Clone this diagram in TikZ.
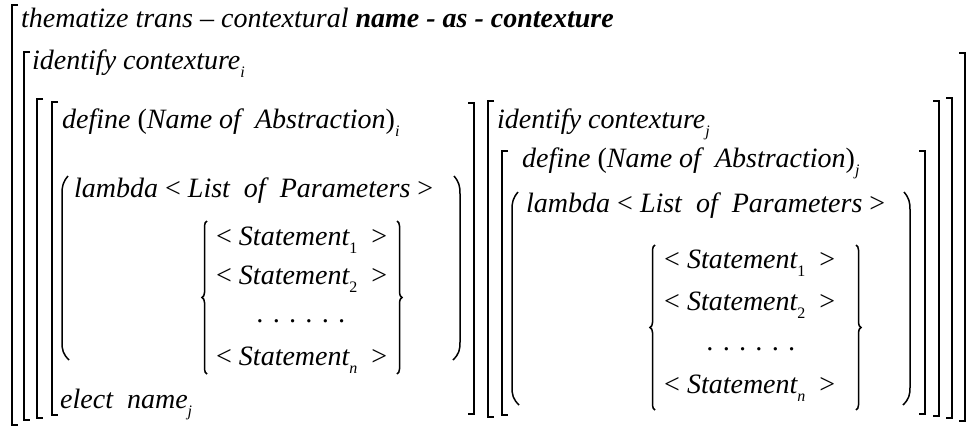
\documentclass[tikz,border=0pt]{standalone}
\usepackage{fontspec}
\setmainfont{Liberation Serif}
\usetikzlibrary{decorations.pathreplacing}
\newcommand\sbs[1]{\raisebox{-0.3em}{\fontsize{16}{16}\selectfont #1}}
\newcommand\LB[3]{\draw[br] (#1+6,#2) -- (#1,#2) -- (#1,#3) -- (#1+6,#3);}
\newcommand\RB[3]{\draw[br] (#1-6,#2) -- (#1,#2) -- (#1,#3) -- (#1-6,#3);}
\newcommand\LP[3]{\draw[br] (#1+6,#2) .. controls (#1+1,#2+6) and (#1,#2+10) .. (#1,#2+18) -- (#1,#3-18) .. controls (#1,#3-10) and (#1+1,#3-6) .. (#1+7,#3);}
\newcommand\RP[3]{\draw[br] (#1-6,#2) .. controls (#1-1,#2+6) and (#1,#2+10) .. (#1,#2+18) -- (#1,#3-18) .. controls (#1,#3-10) and (#1-1,#3-6) .. (#1-7,#3);}
\begin{document}
\begin{tikzpicture}[x=1pt,y=-1pt,
  txt/.style={anchor=base west, inner sep=0pt, font=\itshape\fontsize{28}{32}\selectfont},
  br/.style={line width=1.5pt},
  brc/.style={line width=1.5pt, decorate, decoration={brace, amplitude=5pt}}]
\useasboundingbox (0,0) rectangle (973,426);
% outer brackets
\draw[br] (18,5) -- (12,5) -- (12,425) -- (18,425);
\LB{24}{52}{420}
\LB{37}{99}{418}
\LB{52}{102}{415}
\RB{965}{53}{421}
\RB{952}{98}{418}
\RB{939}{101}{416}
\RB{925}{151}{414}
\RB{474}{103}{414}
\LB{488}{101}{417}
\LB{502}{151}{415}
% text row 1
\node[txt] (t1) at (21,27) {thematize trans -- contextural \textbf{name - as - contexture}};
\node[txt] (t2) at (32,69) {identify contexture\sbs{i}};
% left block
\node[txt] (l1) at (62,128) {define {\upshape(}Name of\ \ Abstraction{\upshape)}\sbs{i}};
\LP{62}{176}{360}
\RP{460}{176}{360}
\node[txt] (l2) at (74,197) {lambda {\upshape<} List\ \ of\ \ Parameters {\upshape>}};
\draw[brc] (207,374) -- (207,221);
\draw[brc] (397,221) -- (397,374);
\node[txt] (l3) at (216,245) {{\upshape<} Statement\sbs{\upshape 1}\ \ {\upshape>}};
\node[txt] (l4) at (216,284) {{\upshape<} Statement\sbs{\upshape 2}\ \ {\upshape>}};
\node[txt] (l5) at (257,322) {. . . . . .};
\node[txt] (l6) at (216,365) {{\upshape<} Statement\sbs{n}\ \ {\upshape>}};
\node[txt] (l7) at (60,408) {elect\ \ name\sbs{j}};
% right block
\node[txt] (r1) at (497,128) {identify contexture\sbs{j}};
\node[txt] (r2) at (522,167) {define {\upshape(}Name of\ \ Abstraction{\upshape)}\sbs{j}};
\LP{512}{192}{405}
\RP{910}{192}{405}
\node[txt] (r3) at (526,212) {lambda {\upshape<} List\ \ of\ \ Parameters {\upshape>}};
\draw[brc] (655,410) -- (655,245);
\draw[brc] (856,245) -- (856,410);
\node[txt] (r4) at (664,268) {{\upshape<} Statement\sbs{\upshape 1}\ \ {\upshape>}};
\node[txt] (r5) at (664,310) {{\upshape<} Statement\sbs{\upshape 2}\ \ {\upshape>}};
\node[txt] (r6) at (707,350) {. . . . . .};
\node[txt] (r7) at (664,393) {{\upshape<} Statement\sbs{n}\ \ {\upshape>}};
\end{tikzpicture}
\end{document}
